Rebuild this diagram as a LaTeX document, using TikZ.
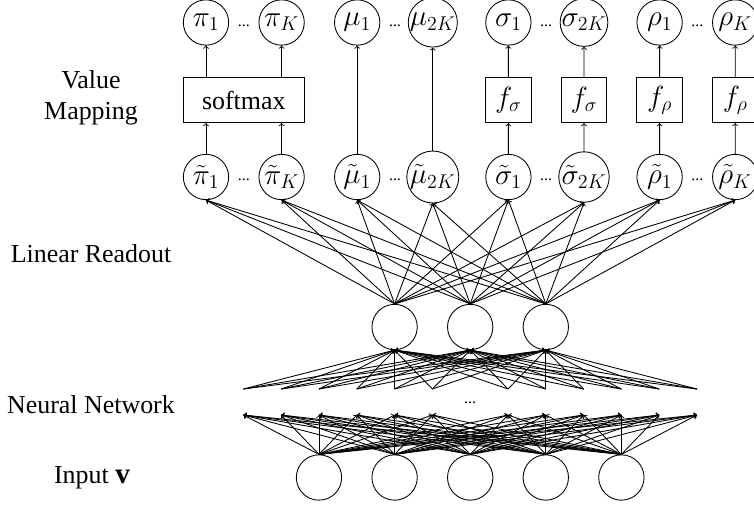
\RequirePackage{fix-cm}
\documentclass[tikz,border=0pt]{standalone}
\usepackage{fontspec}
\setmainfont{Liberation Serif}
\DeclareMathSizes{19.5}{22}{15}{11}
\begin{document}
\begin{tikzpicture}[x=0.026458cm,y=-0.026458cm,
  font=\fontsize{19.5}{23}\selectfont,
  line width=0.65pt,
  neuron/.style={circle,draw,minimum size=1.2cm,inner sep=0pt},
  mapbox/.style={rectangle,draw,minimum height=1.2cm,minimum width=1.2cm,inner sep=0pt},
  conn/.style={->},
  lbl/.style={align=center},
  dotsnode/.style={inner sep=0pt,font=\fontsize{12}{12}\selectfont}]
\useasboundingbox (0,0) rectangle (754,506);

% output and pre-activation rows
\foreach \n/\b/\s [count=\i from 0] in {p1/\pi/1, pK/\pi/K, m1/\mu/1, mK/\mu/2K, s1/\sigma/1, sK/\sigma/2K, r1/\rho/1, rK/\rho/K}
{
  \node[neuron] (o\n) at (206+75.6*\i, 22.5) {$\b_{\s}$};
  \node[neuron] (t\n) at (206+75.6*\i, 177) {$\tilde{\b}_{\s}$};
}
% dots between pairs
\foreach \k [count=\i from 0] in {p,m,s,r}
{
  \node[dotsnode] (od\k) at (243.8+151.2*\i, 26) {...};
  \node[dotsnode] (td\k) at (243.8+151.2*\i, 180) {...};
}

% value mapping boxes
\node[mapbox, minimum width=3.2cm] (sm) at (243.8,100) {softmax};
\node[mapbox] (fs1) at (508.4,100) {$f_\sigma$};
\node[mapbox] (fsK) at (584,100) {$f_\sigma$};
\node[mapbox] (fr1) at (659.6,100) {$f_\rho$};
\node[mapbox] (frK) at (735.2,100) {$f_\rho$};

% arrows through value mapping
\draw[conn] (tp1.north) -- (tp1.north |- sm.south);
\draw[conn] (tpK.north) -- (tpK.north |- sm.south);
\draw[conn] (op1.south |- sm.north) -- (op1.south);
\draw[conn] (opK.south |- sm.north) -- (opK.south);
\draw[conn] (tm1.north) -- (om1.south);
\draw[conn] (tmK.north) -- (omK.south);
\foreach \n/\f in {s1/fs1, sK/fsK, r1/fr1, rK/frK}
{
  \draw[conn] (t\n.north) -- (\f.south);
  \draw[conn] (\f.north) -- (o\n.south);
}

% hidden layer
\foreach \i in {0,1,2}
  \node[neuron] (h\i) at (394.6+75.6*\i, 327) {};
% input layer
\foreach \i in {0,...,4}
  \node[neuron] (in\i) at (319+75.6*\i, 477.5) {};

% neural network placeholder points
\foreach \j in {0,1,2,3,4,5,7,8,9,10,11,12}
{
  \coordinate (nt\j) at (243.4+37.8*\j, 389);
  \coordinate (nb\j) at (243.4+37.8*\j, 415);
}
\node[dotsnode] (nndots) at (470.2,403) {...};

% connections
\foreach \j in {0,1,2,3,4,5,7,8,9,10,11,12}
{
  \foreach \i in {0,1,2}
    \draw[conn] (nt\j) -- (h\i.south);
  \foreach \i in {0,...,4}
    \draw[conn] (in\i.north) -- (nb\j);
}
\foreach \n in {p1,pK,m1,mK,s1,sK,r1,rK}
  \foreach \i in {0,1,2}
    \draw[conn] (h\i.north) -- (t\n.south);

% labels
\node[lbl] (lvm) at (91,98) {Value\\Mapping};
\node (llr) at (91,254) {Linear Readout};
\node (lnn) at (91,405) {Neural Network};
\node (lin) at (92,478) {Input $\mathbf{v}$};
\end{tikzpicture}
\end{document}
